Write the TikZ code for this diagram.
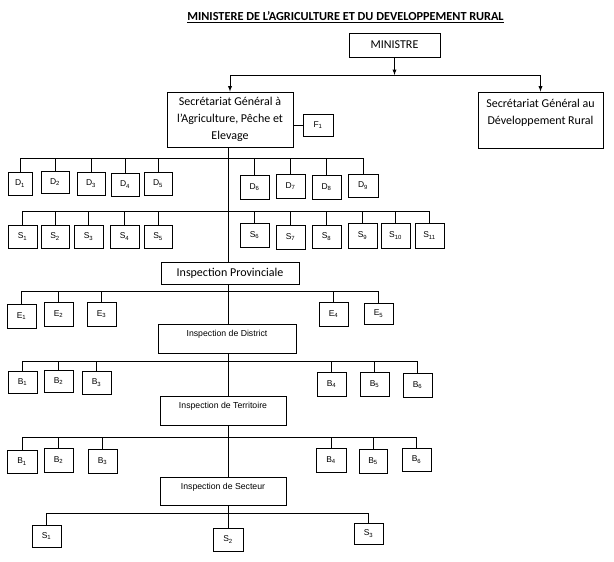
\documentclass[tikz,border=0pt]{standalone}
\usepackage{fontspec}
\setmainfont{Carlito}
\newfontfamily\smallfont{Liberation Sans}
\usetikzlibrary{arrows,positioning,calc}

\begin{document}
\begin{tikzpicture}[x=1pt, y=-1pt, line width=0.9pt,
    box/.style={draw, inner sep=1pt, align=center, font=\fontsize{12}{17}\selectfont},
    insp/.style={draw, inner sep=0pt, text height=12pt, text depth=17pt,
                 font=\smallfont\fontsize{8.7}{9}\selectfont},
    unit/.style={draw, inner sep=0pt, minimum width=29pt, minimum height=23pt,
                 font=\smallfont\fontsize{8.5}{9}\selectfont}]
    \useasboundingbox (0,0) rectangle (614,562);
    \node[font=\bfseries\fontsize{12.3}{14}\selectfont] (title) at (345.5,17)
      {\underline{MINISTERE DE L’AGRICULTURE ET DU DEVELOPPEMENT RURAL}};
    % ministre and the two secretariats
    \node[box, minimum width=91pt, minimum height=24pt] (min) at (394.5,45) {MINISTRE};
    \node[box, minimum width=126pt, minimum height=55pt] (sg) at (230,119.5)
      {Secrétariat Général à\\ l’Agriculture, Pêche et\\ Elevage};
    \node[unit, minimum width=30pt, minimum height=22pt] (f1) at (318,125) {F\textsubscript{1}};
    \node[box, minimum width=125pt, minimum height=56pt] (sgr) at (540.5,120)
      {Secrétariat Général au\\ Développement Rural\\ ~};
    \coordinate (split) at (394.5,75);
    \coordinate (trunk) at (228,0);
    \draw[->, >=latex] (min) -- (split);
    \draw (split -| sg.north) -- (split -| sgr.north);
    \draw[->, >=latex] (split -| sg.north) -- (sg);
    \draw[->, >=latex] (split -| sgr.north) -- (sgr);
    \draw (f1.west) -- (f1.west -| sg.east);

    % directions
    \node[unit, minimum width=24pt] (d1) at (20,183.5) {D\textsubscript{1}};
    \node[unit, minimum width=28pt, minimum height=22pt] (d2) at (55,182) {D\textsubscript{2}};
    \node[unit, minimum width=28pt] (d3) at (91,183.5) {D\textsubscript{3}};
    \node[unit, minimum width=28pt] (d4) at (125,184.5) {D\textsubscript{4}};
    \node[unit, minimum width=28pt] (d5) at (158,183.5) {D\textsubscript{5}};
    \node[unit, minimum height=24pt] (d6) at (254.5,187) {D\textsubscript{6}};
    \node[unit, minimum height=24pt] (d7) at (290.5,186) {D\textsubscript{7}};
    \node[unit, minimum height=24pt] (d8) at (326.5,187) {D\textsubscript{8}};
    \node[unit, minimum width=30pt] (d9) at (363,185.5) {D\textsubscript{9}};
    \coordinate (barD) at (0,158);
    \draw (d1.north |- barD) -- (d9.north |- barD);
    \foreach \i in {1,...,9} \draw (d\i.north) -- (d\i.north |- barD);

    % services
    \node[unit] (s1) at (22.5,236.5) {S\textsubscript{1}};
    \node[unit, minimum width=28pt] (s2) at (55,236.5) {S\textsubscript{2}};
    \node[unit] (s3) at (88.5,236.5) {S\textsubscript{3}};
    \node[unit] (s4) at (124.5,236.5) {S\textsubscript{4}};
    \node[unit, minimum width=28pt] (s5) at (158,236.5) {S\textsubscript{5}};
    \node[unit, minimum height=24pt] (s6) at (254.5,235) {S\textsubscript{6}};
    \node[unit, minimum height=24pt] (s7) at (290.5,237) {S\textsubscript{7}};
    \node[unit] (s8) at (326.5,236.5) {S\textsubscript{8}};
    \node[unit, minimum height=25pt] (s9) at (362.5,235.5) {S\textsubscript{9}};
    \node[unit, minimum height=25pt] (s10) at (395.5,235.5) {S\textsubscript{10}};
    \node[unit, minimum height=25pt] (s11) at (429.5,235.5) {S\textsubscript{11}};
    \coordinate (barS) at (0,211);
    \draw (s1.north |- barS) -- (s11.north |- barS);
    \foreach \i in {1,...,11} \draw (s\i.north) -- (s\i.north |- barS);

    % inspection provinciale
    \node[box, minimum width=138pt, minimum height=22pt] (ip) at (230,273) {Inspection Provinciale};
    \draw (sg.south -| trunk) -- (ip.north -| trunk);
    \node[unit, minimum height=24pt] (e1) at (21.5,316) {E\textsubscript{1}};
    \node[unit, minimum height=24pt] (e2) at (58.5,314) {E\textsubscript{2}};
    \node[unit, minimum height=24pt] (e3) at (101.5,314) {E\textsubscript{3}};
    \node[unit, minimum height=24pt] (e4) at (333.5,314) {E\textsubscript{4}};
    \node[unit, minimum height=21pt] (e5) at (378.5,313.5) {E\textsubscript{5}};
    \coordinate (barE) at (0,291);
    \draw (e1.north |- barE) -- (e5.north |- barE);
    \foreach \i in {1,...,5} \draw (e\i.north) -- (e\i.north |- barE);

    % inspection de district
    \node[insp, minimum width=138pt] (id) at (227,338.5) {Inspection de District};
    \draw (ip.south -| trunk) -- (id.north -| trunk);
    \node[unit, minimum height=22pt] (b1) at (22.5,382) {B\textsubscript{1}};
    \node[unit, minimum height=22pt] (b2) at (58.5,381) {B\textsubscript{2}};
    \node[unit] (b3) at (96.5,382.5) {B\textsubscript{3}};
    \node[unit, minimum height=24pt] (b4) at (331.5,384) {B\textsubscript{4}};
    \node[unit, minimum height=24pt] (b5) at (374.5,384) {B\textsubscript{5}};
    \node[unit, minimum height=24pt] (b6) at (417.5,385) {B\textsubscript{6}};
    \coordinate (barB) at (0,361);
    \draw (b1.north |- barB) -- (b6.north |- barB);
    \foreach \i in {1,...,6} \draw (b\i.north) -- (b\i.north |- barB);

    % inspection de territoire
    \node[insp, minimum width=126pt] (it) at (223,410.5) {Inspection de Territoire};
    \draw (id.south -| trunk) -- (it.north -| trunk);
    \node[unit, minimum width=30pt] (c1) at (22,461.5) {B\textsubscript{1}};
    \node[unit, minimum height=24pt] (c2) at (58.5,460) {B\textsubscript{2}};
    \node[unit, minimum height=24pt] (c3) at (102.5,461) {B\textsubscript{3}};
    \node[unit, minimum width=30pt, minimum height=24pt] (c4) at (331,460) {B\textsubscript{4}};
    \node[unit, minimum width=28pt, minimum height=24pt] (c5) at (373,461) {B\textsubscript{5}};
    \node[unit] (c6) at (416.5,459.5) {B\textsubscript{6}};
    \coordinate (barC) at (0,437);
    \draw (c1.north |- barC) -- (c6.north |- barC);
    \foreach \i in {1,...,6} \draw (c\i.north) -- (c\i.north |- barC);

    % inspection de secteur
    \node[insp, minimum width=126pt, text depth=16pt] (is) at (223,491) {Inspection de Secteur};
    \draw (it.south -| trunk) -- (is.north -| trunk);
    \node[unit, minimum height=22pt] (t1) at (46.5,536) {S\textsubscript{1}};
    \node[unit, minimum width=30pt] (t2) at (228,539.5) {S\textsubscript{2}};
    \node[unit, minimum height=21pt] (t3) at (368.5,533.5) {S\textsubscript{3}};
    \coordinate (barT) at (0,513);
    \draw (t1.north |- barT) -- (t3.north |- barT);
    \draw (is.south -| trunk) -- (trunk |- barT);
    \foreach \i in {1,...,3} \draw (t\i.north) -- (t\i.north |- barT);
\end{tikzpicture}
\end{document}
